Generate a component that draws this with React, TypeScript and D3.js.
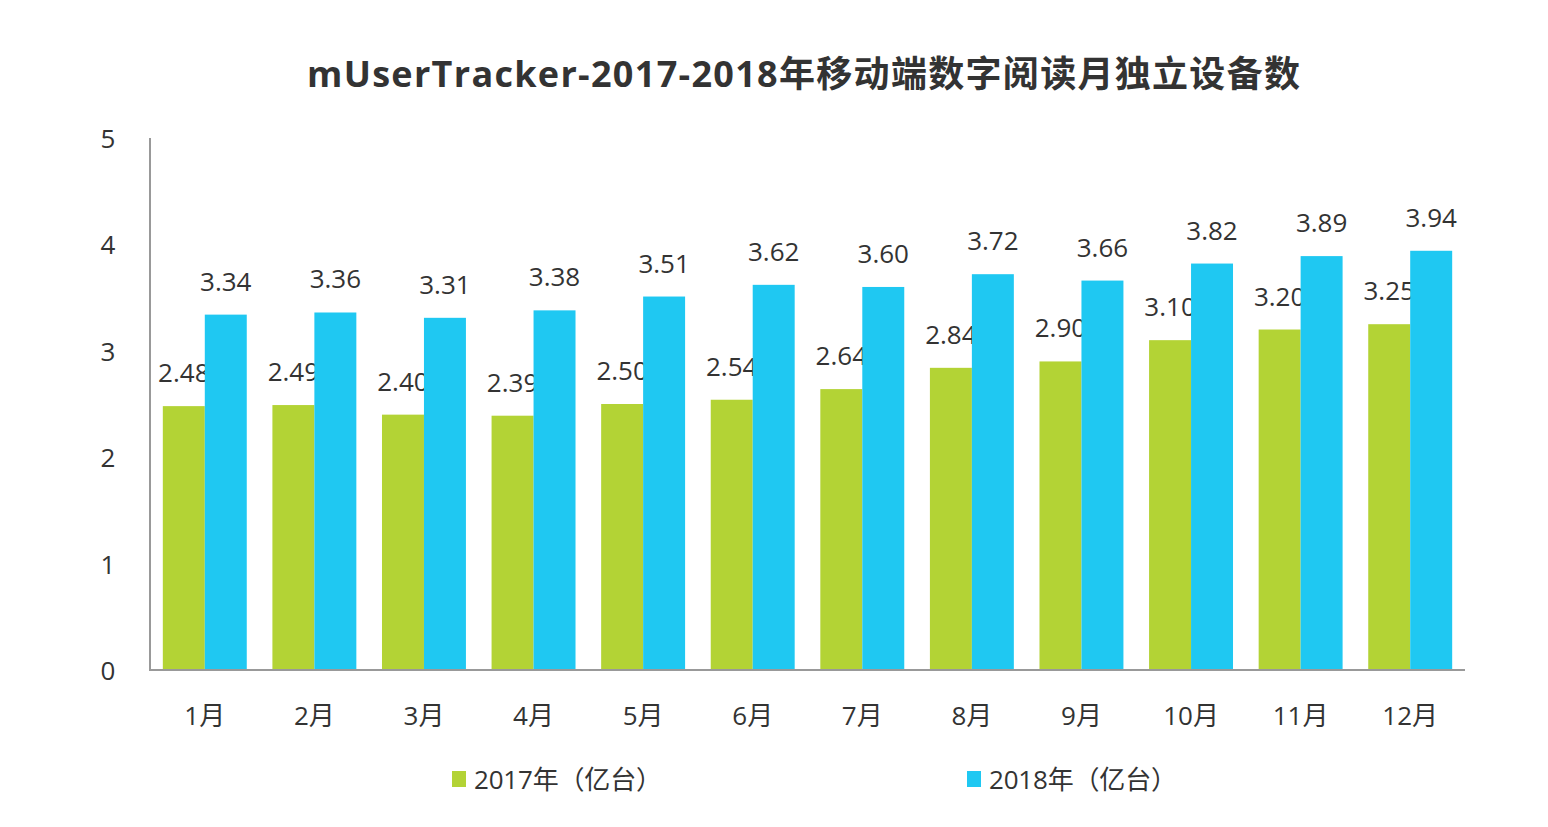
import React from 'react';
import * as d3 from 'd3';

const months = ['1月', '2月', '3月', '4月', '5月', '6月', '7月', '8月', '9月', '10月', '11月', '12月'];
const values2017 = [2.48, 2.49, 2.4, 2.39, 2.5, 2.54, 2.64, 2.84, 2.9, 3.1, 3.2, 3.25];
const values2018 = [3.34, 3.36, 3.31, 3.38, 3.51, 3.62, 3.6, 3.72, 3.66, 3.82, 3.89, 3.94];
const yTicks = [0, 1, 2, 3, 4, 5];
const seriesNames = ['2017年（亿台）', '2018年（亿台）'];

const GREEN = '#b3d335';
const BLUE = '#1fc8f2';
const TEXT = '#333333';
const FONT = '"Open Sans", "Noto Sans CJK SC", sans-serif';

const width = 1548;
const height = 827;
const margin = { left: 150, right: 83, top: 138, bottom: 157 };

export default function App() {
  const x = d3
    .scaleBand<string>()
    .domain(months)
    .range([margin.left, width - margin.right]);
  const y = d3
    .scaleLinear()
    .domain([0, 5])
    .range([height - margin.bottom, margin.top]);

  const barW = x.bandwidth() * 0.383;
  const series = [
    { name: seriesNames[0], values: values2017, color: GREEN, offset: -barW },
    { name: seriesNames[1], values: values2018, color: BLUE, offset: 0 },
  ];

  return (
    <svg
      width={width}
      height={height}
      style={{ position: 'absolute', left: 0, top: 0, background: '#fff' }}
      fontFamily={FONT}
    >
      <text
        x={307}
        y={73}
        dominantBaseline="central"
        fontSize={36}
        fontWeight="bold"
        fill={TEXT}
        textLength={993}
        lengthAdjust="spacing"
      >
        mUserTracker-2017-2018年移动端数字阅读月独立设备数
      </text>

      {yTicks.map(t => (
        <text
          key={t}
          x={108}
          y={y(t)}
          textAnchor="middle"
          dominantBaseline="central"
          fontSize={26}
          fill={TEXT}
        >
          {t}
        </text>
      ))}

      {series.map(s =>
        s.values.map((v, i) => {
          const cx = (x(months[i]) ?? 0) + x.bandwidth() / 2 + s.offset;
          return (
            <g key={s.name + i}>
              <rect x={cx} y={y(v)} width={barW} height={y(0) - y(v)} fill={s.color} />
              <text
                x={cx + barW / 2}
                y={y(v) - 34}
                textAnchor="middle"
                dominantBaseline="central"
                fontSize={26}
                fill={TEXT}
              >
                {v.toFixed(2)}
              </text>
            </g>
          );
        })
      )}

      <line x1={margin.left} x2={margin.left} y1={margin.top} y2={y(0)} stroke="#999" strokeWidth={2} />
      <line x1={margin.left - 1} x2={width - margin.right} y1={y(0)} y2={y(0)} stroke="#999" strokeWidth={2} />

      {months.map(m => (
        <text
          key={m}
          x={(x(m) ?? 0) + x.bandwidth() / 2}
          y={715}
          textAnchor="middle"
          dominantBaseline="central"
          fontSize={26}
          fill={TEXT}
        >
          {m}
        </text>
      ))}

      {series.map((s, i) => {
        const lx = i === 0 ? 452 : 967;
        return (
          <g key={s.name}>
            <rect x={lx} y={771} width={14} height={16} fill={s.color} />
            <text
              x={lx + 22}
              y={779}
              dominantBaseline="central"
              fontSize={26}
              fill={TEXT}
              textLength={188}
              lengthAdjust="spacing"
            >
              {s.name}
            </text>
          </g>
        );
      })}
    </svg>
  );
}
